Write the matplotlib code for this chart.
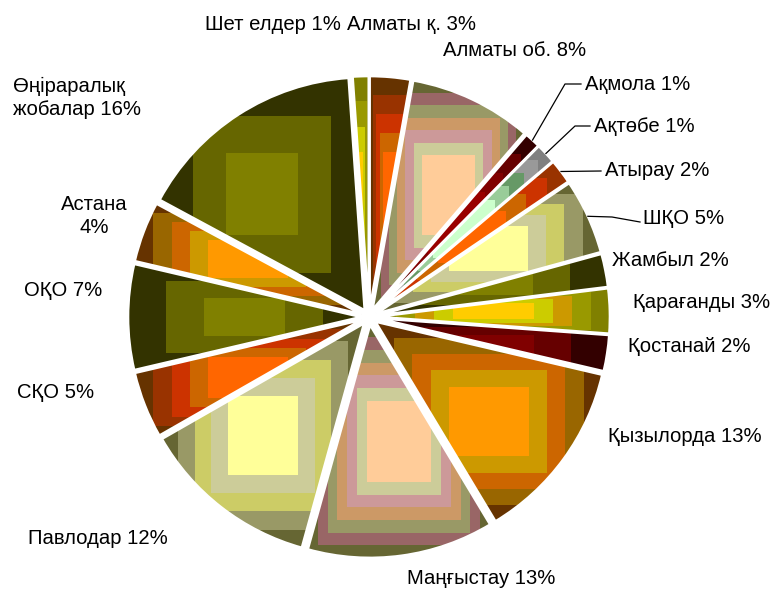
import numpy as np
import matplotlib
matplotlib.use('Agg')
import matplotlib.pyplot as plt
from matplotlib.patches import Rectangle

plt.rcParams['font.family'] = ['Liberation Sans', 'DejaVu Sans']

# ---------------- data ----------------
regions = ['Алматы қ.', 'Алматы об.', 'Ақмола', 'Ақтөбе', 'Атырау', 'ШҚО',
           'Жамбыл', 'Қарағанды', 'Қостанай', 'Қызылорда', 'Маңғыстау',
           'Павлодар', 'СҚО', 'ОҚО', 'Астана', 'Өңіраралық жобалар', 'Шет елдер']
shares = [2.8, 8.5, 1.1, 1.4, 1.7, 5.2, 2.3, 3.1, 2.5, 12.7, 12.9,
          12.4, 4.6, 7.3, 4.2, 16.0, 1.1]
pct_labels = [3, 8, 1, 1, 2, 5, 2, 3, 2, 13, 13, 12, 5, 7, 4, 16, 1]

# ---------------- styles ----------------
OR_RED = ['#663300', '#993300', '#CC3300', '#CC6600', '#FF6600']
PEACH = ['#666633', '#996666', '#999966', '#CC9966', '#CC9999', '#CCCC99', '#FFCC99']
YELLOW = ['#666633', '#999966', '#CCCC66', '#CCCC99', '#FFFF99']
OLIVE = ['#333300', '#666600', '#808000']
DARKRED = ['#330000', '#660000', '#800000']
ORANGE = ['#663300', '#996600', '#CC6600', '#CC9900', '#FF9900']
GOLD = ['#808000', '#999900', '#CC9900', '#CCCC00', '#FFCC00']
palettes = [
    OR_RED, PEACH, ['#330000', '#660000', '#800000', '#990000'],
    ['#808080', '#999999', '#669966', '#99CC99', '#CCFFCC'],
    ['#993300', '#CC3300', '#CC6600', '#FF6600'],
    YELLOW, OLIVE, GOLD, DARKRED, ORANGE, PEACH, YELLOW, OR_RED, OLIVE,
    ORANGE, OLIVE, ['#808000', '#999900', '#CCCC00', '#FFCC00'],
]

W, H = 770, 590
CX, CY, R = 369, 317, 233          # pie centre / radius in pixels
EXPL = 0.034
INNER = 0.35

# label layout: (x px, y px, ha, separator)
label_layout = [
    (347, 24, 'left', ' '), (443, 51, 'left', ' '), (585, 85, 'left', ' '),
    (594, 127, 'left', ' '), (605, 171, 'left', ' '), (643, 218, 'left', ' '),
    (612, 261, 'left', ' '), (633, 303, 'left', ' '), (628, 346, 'left', ' '),
    (608, 436, 'left', ' '), (407, 579, 'left', ' '), (28, 539, 'left', ' '),
    (17, 392, 'left', ' '), (24, 290, 'left', ' '), (94, 216, 'center', '\n'),
    (13, 98, 'left', '\n'), (205, 24, 'left', ' '),
]
# leader lines: index -> list of pixel points after the wedge anchor
leaders = {2: [(565, 84), (581, 84)], 3: [(575, 126), (590, 126)],
           4: [(601, 171)], 5: [(612, 217), (640, 222)]}


def px(x, y):
    return (x - CX) / R, (CY - y) / R


fig = plt.figure(figsize=(W / 100, H / 100), dpi=100)
ax = fig.add_axes([0, 0, 1, 1])

wedges, _ = ax.pie(shares, startangle=90, counterclock=False,
                   explode=[EXPL] * len(shares), radius=1,
                   wedgeprops=dict(facecolor='none', edgecolor='white',
                                   linewidth=1.8, zorder=3))

for w, pal in zip(wedges, palettes):
    cxw, cyw = w.center
    r = w.r
    t1, t2 = w.theta1, w.theta2
    angs = [t1, t2] + [a for a in range(-360, 721, 90) if t1 < a < t2]
    xs = [cxw] + [cxw + r * np.cos(np.radians(a)) for a in angs]
    ys = [cyw] + [cyw + r * np.sin(np.radians(a)) for a in angs]
    x0, x1, y0, y1 = min(xs), max(xs), min(ys), max(ys)
    bw, bh = x1 - x0, y1 - y0
    mx, my = (x0 + x1) / 2, (y0 + y1) / 2
    scales = np.linspace(1.0, INNER, len(pal))
    for s, col in zip(scales, pal):
        pad = 1.02 if s == 1.0 else 1.0
        rw, rh = bw * s * pad, bh * s * pad
        rect = Rectangle((mx - rw / 2, my - rh / 2), rw, rh, facecolor=col,
                         edgecolor='none', zorder=1)
        ax.add_patch(rect)
        rect.set_clip_path(w)

for i, (name, p, (lx, ly, ha, sep)) in enumerate(zip(regions, pct_labels, label_layout)):
    txt = f'{name}{sep}{p}%'
    if i == 15:
        txt = 'Өңіраралық\nжобалар 16%'
    x, y = px(lx, ly)
    ax.text(x, y, txt, ha=ha, va='center', fontsize=14.6, color='black',
            linespacing=1.3, multialignment=ha if ha != 'left' else 'left')

for i, pts in leaders.items():
    w = wedges[i]
    mid = np.radians((w.theta1 + w.theta2) / 2)
    ax_x = w.center[0] + w.r * np.cos(mid)
    ax_y = w.center[1] + w.r * np.sin(mid)
    xs = [ax_x] + [px(*p)[0] for p in pts]
    ys = [ax_y] + [px(*p)[1] for p in pts]
    ax.plot(xs, ys, color='black', lw=0.9, zorder=4)

ax.set_xlim(-CX / R, (W - CX) / R)
ax.set_ylim(-(H - CY) / R, CY / R)
ax.set_aspect('equal')
ax.axis('off')

fig.savefig('out.png', dpi=100)
